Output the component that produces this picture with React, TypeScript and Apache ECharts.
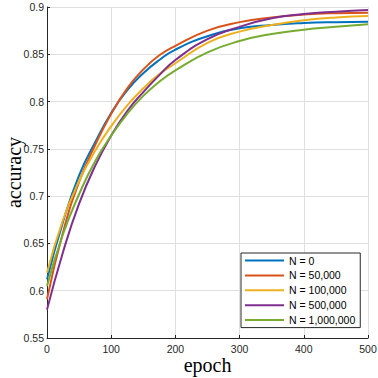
import React, { useEffect, useRef } from "react";
import * as echarts from "echarts";

const epochs = [0, 25, 50, 75, 100, 125, 150, 175, 200, 250, 300, 350, 400, 450, 500];
const seriesNames = ["N = 0", "N = 50,000", "N = 100,000", "N = 500,000", "N = 1,000,000"];
const n0 = [0.612, 0.673, 0.722, 0.757, 0.788, 0.812, 0.830, 0.844, 0.855, 0.869, 0.8775, 0.881, 0.883, 0.884, 0.8845];
const n50k = [0.591, 0.662, 0.715, 0.754, 0.787, 0.814, 0.834, 0.849, 0.859, 0.875, 0.884, 0.889, 0.892, 0.8935, 0.894];
const n100k = [0.619, 0.675, 0.716, 0.748, 0.774, 0.796, 0.814, 0.829, 0.8405, 0.862, 0.874, 0.881, 0.886, 0.889, 0.8905];
const n500k = [0.580, 0.641, 0.692, 0.732, 0.764, 0.790, 0.810, 0.828, 0.844, 0.866, 0.879, 0.888, 0.8925, 0.895, 0.8968];
const n1m = [0.605, 0.660, 0.702, 0.737, 0.764, 0.787, 0.806, 0.821, 0.833, 0.852, 0.864, 0.8715, 0.876, 0.879, 0.8818];
const allValues = [n0, n50k, n100k, n500k, n1m];
const colors = ["#0072BD", "#D95319", "#EDB120", "#7E2F8E", "#77AC30"];

const sans = "'Liberation Sans', Arial, Helvetica, sans-serif";
const serif = "'Liberation Serif', 'Times New Roman', serif";

export default function App() {
  const ref = useRef<HTMLDivElement>(null);
  useEffect(() => {
    if (!ref.current) return;
    const chart = echarts.init(ref.current, undefined, { renderer: "svg" });
    chart.setOption({
      animation: false,
      backgroundColor: "#ffffff",
      grid: { left: 47, right: 10, top: 7, bottom: 40, containLabel: false, outerBoundsMode: "none" },
      xAxis: {
        type: "value",
        min: 0,
        max: 500,
        interval: 100,
        name: "epoch",
        nameLocation: "middle",
        nameGap: 17,
        nameMoveOverlap: false,
        nameTextStyle: { fontFamily: serif, fontSize: 20, color: "#000" },
        axisLine: { show: true, onZero: false, lineStyle: { color: "#262626", width: 1 } },
        axisTick: { show: true, inside: true, length: 3, lineStyle: { color: "#262626" } },
        axisLabel: { fontFamily: sans, fontSize: 10.5, color: "#262626", margin: 5 },
        splitLine: { show: true, lineStyle: { color: "#dfdfdf", width: 1 } },
      },
      yAxis: {
        type: "value",
        min: 0.55,
        max: 0.9,
        interval: 0.05,
        name: "accuracy",
        nameLocation: "middle",
        nameRotate: 90,
        nameGap: 23.5,
        nameMoveOverlap: false,
        nameTextStyle: { fontFamily: serif, fontSize: 20, color: "#000" },
        axisLine: { show: true, onZero: false, lineStyle: { color: "#262626", width: 1 } },
        axisTick: { show: true, inside: true, length: 3, lineStyle: { color: "#262626" } },
        axisLabel: {
          fontFamily: sans,
          fontSize: 10.5,
          color: "#262626",
          margin: 3,
          formatter: (v: number) => String(parseFloat(v.toFixed(2))),
        },
        splitLine: { show: true, lineStyle: { color: "#dfdfdf", width: 1 } },
      },
      legend: {
        orient: "vertical",
        left: 241,
        top: 253,
        padding: [2, 5, 2, 3],
        itemWidth: 39,
        itemHeight: 12,
        itemGap: 3.9,
        backgroundColor: "#ffffff",
        borderColor: "#262626",
        borderWidth: 1,
        borderRadius: 0,
        itemStyle: { opacity: 0 },
        lineStyle: { width: 2 },
        textStyle: { fontFamily: sans, fontSize: 10.5, color: "#000" },
        data: seriesNames,
      },
      series: seriesNames.map((name, i) => ({
        name,
        type: "line",
        smooth: true,
        symbol: "none",
        color: colors[i],
        lineStyle: { width: 2, color: colors[i] },
        data: epochs.map((e, j) => [e, allValues[i][j]]),
      })),
    });
    return () => chart.dispose();
  }, []);
  return <div ref={ref} style={{ width: 378, height: 378, position: "absolute", left: 0, top: 0 }} />;
}
